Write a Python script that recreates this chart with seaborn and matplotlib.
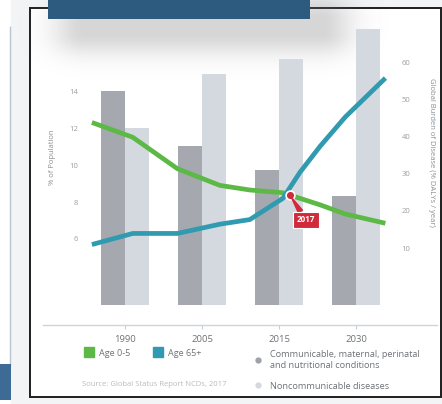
import numpy as np
import pandas as pd
import matplotlib.pyplot as plt
import seaborn as sns
from matplotlib.patches import Rectangle
from matplotlib.lines import Line2D

sns.set_style("white")
plt.rcParams["font.family"] = ["Open Sans", "DejaVu Sans"]

# --- data ---
years = ["1990", "2005", "2015", "2030"]
communicable = [52.2, 37.3, 31.1, 24.1]      # % DALYs, dark bars
noncommunicable = [42.2, 56.8, 60.8, 68.9]   # % DALYs, light bars

# line samples: position on the category axis (1990=0 ... 2030=3) and % of population
line_pos = [-0.43, 0.10, 0.68, 1.23, 1.62, 2.05, 2.27, 2.53, 2.86, 3.38]
age_0_5 = [12.3, 11.5, 9.8, 8.9, 8.65, 8.5, 8.2, 7.85, 7.35, 6.85]
age_65 = [5.7, 6.3, 6.3, 6.8, 7.05, 8.2, 9.6, 11.0, 12.6, 14.7]
marker_pos, marker_val = 2.14, 8.38   # 2017 crossing

BAR_BASE = -5.3
GREEN = "#5cb946"
TEAL = "#2f9ab0"
DARK_BAR = "#a5a9af"
LIGHT_BAR = "#d4d9e0"
RED = "#d22a3a"

bars = pd.DataFrame({
    "year": years * 2,
    "group": ["Communicable"] * 4 + ["Noncommunicable"] * 4,
    "value": [v - BAR_BASE for v in communicable + noncommunicable],
})

fig = plt.figure(figsize=(4.42, 4.04), dpi=100)
fig.patch.set_facecolor("#f3f4f5")

# background decor: framed card, side panel, banner with shadow
fig.patches.append(Rectangle((0, 0), 11 / 442, 1, transform=fig.transFigure,
                             fc="white", ec="none"))
fig.patches.append(Rectangle((10 / 442, 38 / 404), 0, 340 / 404, transform=fig.transFigure,
                             fc="none", ec="#b9c6d2", lw=1))
fig.patches.append(Rectangle((0, 4 / 404), 11 / 442, 36 / 404, transform=fig.transFigure,
                             fc="#3e6b95", ec="none"))
fig.patches.append(Rectangle((30 / 442, 7 / 404), 411 / 442, 389 / 404, transform=fig.transFigure,
                             fc="white", ec="#1e1e1e", lw=1.4))

# soft shadow under the banner
h, w = 404, 442
yy, xx = np.mgrid[0:h, 0:w]
dx = np.clip(np.maximum(85 - xx, xx - 320), 0, None)
dy = np.clip(np.maximum(18 - yy, yy - 32), 0, None)
shade = np.exp(-(dx / 32.0) ** 2 - (dy / 22.0) ** 2) * 0.32
rgba = np.zeros((h, w, 4))
rgba[..., :3] = 0.5
rgba[..., 3] = shade
fig.figimage(rgba, xo=0, yo=0, origin="upper", zorder=1)

fig.patches.append(Rectangle((48 / 442, 385 / 404), 262 / 442, 20 / 404, transform=fig.transFigure,
                             fc="#2d5b80", ec="none", zorder=2))

# --- main axes: bars (right scale) and lines (left scale) ---
ax = fig.add_axes([43 / 442, 79 / 404, 394 / 442, 300 / 404])
ax.set_zorder(3)
ax.patch.set_alpha(0)
ax2 = ax.twinx()
ax2.set_zorder(4)

sns.barplot(data=bars, x="year", y="value", hue="group", order=years,
            palette=[DARK_BAR, LIGHT_BAR], width=0.62, gap=0, ax=ax,
            bottom=BAR_BASE, legend=False, saturation=1, linewidth=0)
ax.set_xlim(-1.065, 4.05)
ax.set_ylim(-10.7, 69.95)
ax.set_yticks([10, 20, 30, 40, 50, 60])
ax.yaxis.tick_right()
ax.yaxis.set_label_position("right")
ax.set_ylabel("Global Burden of Disease (% DALYs / year)", rotation=-90,
              color="#8a8f94", fontsize=5.5, labelpad=0)
ax.yaxis.set_label_coords((435 - 43) / 394, (404 - 152 - 79) / 300)
ax.set_xlabel("")
ax.tick_params(axis="y", left=False, right=False, labelleft=False, labelright=True,
               pad=-29, labelsize=5.5, labelcolor="#9a9ea3")
ax.tick_params(axis="x", bottom=True, length=3, width=0.8, color="#c8cdd1",
               labelsize=6.8, labelcolor="#6f7377", pad=4)
for side in ["top", "left", "right"]:
    ax.spines[side].set_visible(False)
ax.spines["bottom"].set_color("#cfd4d8")
ax.spines["bottom"].set_linewidth(1.0)

sns.lineplot(x=line_pos, y=age_0_5, color=GREEN, lw=3.4, ax=ax2,
             solid_capstyle="butt", solid_joinstyle="round")
sns.lineplot(x=line_pos, y=age_65, color=TEAL, lw=3.4, ax=ax2,
             solid_capstyle="butt", solid_joinstyle="round")
ax2.set_ylim(1.35, 17.57)
ax2.set_yticks([6, 8, 10, 12, 14])
ax2.yaxis.tick_left()
ax2.yaxis.set_label_position("left")
ax2.set_ylabel("% of Population", color="#8a8f94", fontsize=5.5)
ax2.yaxis.set_label_coords((56 - 43) / 394, (404 - 157 - 79) / 300)
ax2.tick_params(axis="y", left=False, right=False, labelleft=True, labelright=False,
                pad=-29, labelsize=5.5, labelcolor="#9a9ea3")
for side in ax2.spines:
    ax2.spines[side].set_visible(False)

# 2017 marker and callout
ax2.scatter([marker_pos], [marker_val], s=40, color=RED, edgecolor="white",
            linewidth=1.2, zorder=5)
ax2.annotate("2017", xy=(marker_pos, marker_val), xytext=(11.5, -18),
             textcoords="offset points", ha="center", va="center",
             fontsize=5.8, fontweight="bold", color="white", zorder=6,
             bbox=dict(boxstyle="square,pad=0.45", fc=RED, ec="white", lw=0.8),
             arrowprops=dict(arrowstyle="wedge,tail_width=0.6", fc=RED, ec=RED,
                             shrinkA=0, shrinkB=2))

# legends
line_handles = [
    Line2D([], [], marker="s", ls="none", color=GREEN, markersize=7.5, label="Age 0-5"),
    Line2D([], [], marker="s", ls="none", color=TEAL, markersize=7.5, label="Age 65+"),
]
leg1 = fig.legend(handles=line_handles, loc="center left", ncol=2,
                  bbox_to_anchor=(76 / 442, (404 - 353) / 404), frameon=False,
                  fontsize=6.5, labelcolor="#6f7377", handletextpad=0.6,
                  columnspacing=2.6, handlelength=1.0)
leg1.set_zorder(5)

bar_handles = [
    Line2D([], [], marker="o", ls="none", color="#9ea2a8", markersize=3.5,
           label="Communicable, maternal, perinatal\nand nutritional conditions"),
    Line2D([], [], marker="o", ls="none", color="#d4d9e0", markersize=3.5,
           label="Noncommunicable diseases"),
]
leg2 = fig.legend(handles=bar_handles, loc="upper left",
                  bbox_to_anchor=(246 / 442, (404 - 342) / 404), frameon=False,
                  fontsize=6.6, labelcolor="#6f7377", handletextpad=0.9,
                  handlelength=0.8, labelspacing=1.3)
leg2.set_zorder(5)

fig.text(82 / 442, (404 - 385) / 404, "Source: Global Status Report NCDs, 2017",
         fontsize=5.5, color="#b8bcc0", va="center", zorder=5)

fig.savefig("out.png", dpi=100)
